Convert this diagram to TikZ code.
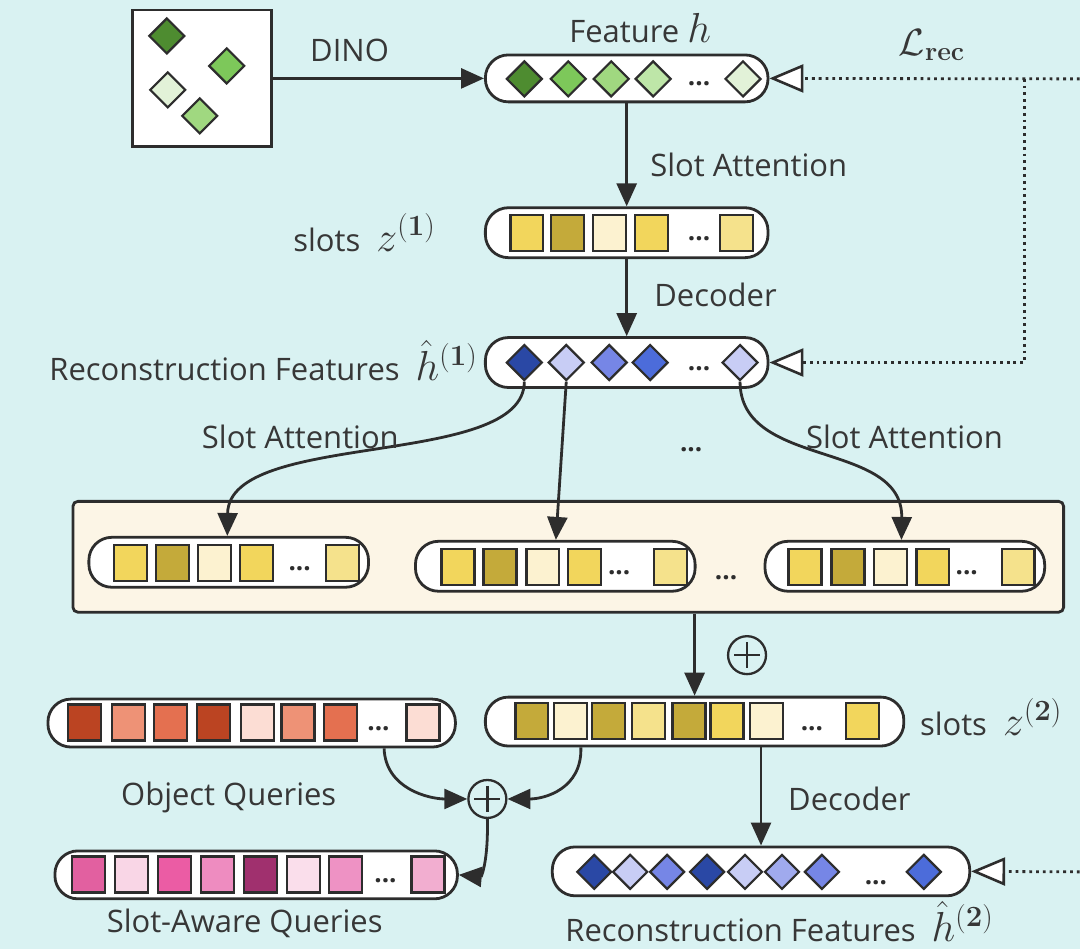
\RequirePackage{fix-cm}
\documentclass[tikz,border=0pt]{standalone}
\usepackage{amsmath}
\usepackage[no-math]{fontspec}
\setmainfont{Open Sans}
\usetikzlibrary{arrows.meta,shapes.geometric,calc}

\definecolor{bg}{RGB}{217,242,242}
\definecolor{ink}{RGB}{45,45,45}
\definecolor{txt}{RGB}{55,55,55}
\definecolor{cream}{RGB}{252,245,230}
% greens
\definecolor{gA}{RGB}{78,140,48}
\definecolor{gB}{RGB}{125,200,90}
\definecolor{gC}{RGB}{160,216,128}
\definecolor{gD}{RGB}{190,230,168}
\definecolor{gE}{RGB}{226,242,216}
% yellows
\definecolor{yY}{RGB}{242,214,92}
\definecolor{yO}{RGB}{196,170,58}
\definecolor{yC}{RGB}{252,242,208}
\definecolor{yL}{RGB}{245,226,140}
% blues
\definecolor{bD}{RGB}{42,72,165}
\definecolor{bL}{RGB}{200,205,245}
\definecolor{bM}{RGB}{118,134,230}
\definecolor{bB}{RGB}{76,108,218}
\definecolor{bS}{RGB}{160,170,238}
% reds
\definecolor{rD}{RGB}{187,68,34}
\definecolor{rS}{RGB}{238,146,118}
\definecolor{rC}{RGB}{228,112,80}
\definecolor{rP}{RGB}{252,221,212}
% pinks
\definecolor{pA}{RGB}{226,96,160}
\definecolor{pP}{RGB}{249,214,230}
\definecolor{pH}{RGB}{235,92,164}
\definecolor{pM}{RGB}{238,140,192}
\definecolor{pD}{RGB}{160,48,110}
\definecolor{pQ}{RGB}{250,222,235}
\definecolor{pN}{RGB}{238,146,196}
\definecolor{pL}{RGB}{242,174,208}

\newcommand{\bigmath}[1]{{\fontsize{42}{44}\selectfont$#1$}}
\newcommand{\lossmath}[1]{{\fontsize{38}{40}\selectfont$#1$}}

\tikzset{
  capsule/.style={draw=ink, line width=2.8, fill=white, rounded corners=23, inner sep=0},
  sq/.style={draw=ink, line width=2.4, minimum width=33, minimum height=36, inner sep=0},
  dia/.style={diamond, draw=ink, line width=2.2, minimum width=36, minimum height=36, inner sep=0},
  smalldia/.style={dia, minimum width=35, minimum height=35},
  dotsym/.style={font=\fontsize{26}{26}\selectfont\bfseries, text=ink, inner sep=0},
  lbl/.style={text=txt, font=\fontsize{31}{36}\selectfont, inner sep=0},
  arr/.style={draw=ink, line width=2.8, -{Triangle[length=23,width=20]}},
  loss/.style={draw=ink, line width=2.8, dash pattern=on 2.8 off 4,
    -{Triangle[open, fill=white, length=34, width=28, line width=2.6]}},
  plus/.style={circle, draw=ink, line width=2.3, minimum size=38, inner sep=0,
    path picture={
      \draw[ink, line width=2.3]
        ($(path picture bounding box.center)+(-13,0)$) -- ($(path picture bounding box.center)+(13,0)$)
        ($(path picture bounding box.center)+(0,-13)$) -- ($(path picture bounding box.center)+(0,13)$);
    }},
}

\begin{document}
\begin{tikzpicture}[x=1pt, y=-1pt]
  % canvas
  \path[fill=bg] (0,0) rectangle (1081,950);

  % input image with DINO patches
  \node[draw=ink, line width=2.8, fill=white, minimum width=139, minimum height=137, inner sep=0] (img) at (202.5,78.5) {};
  \node[dia, fill=gA] (i1) at (167,36) {};
  \node[dia, fill=gB] (i2) at (227,66) {};
  \node[dia, fill=gE] (i3) at (168,90) {};
  \node[dia, fill=gC] (i4) at (200,116) {};

  % feature h
  \node[capsule, minimum width=283, minimum height=47] (feat) at (627.5,78.5) {};
  \foreach \x/\c [count=\i] in {525/gA,569/gB,612/gC,654/gD,744/gE}
    \node[dia, fill=\c] (f\i) at (\x,79) {};
  \node[dotsym] (fdots) at (700,84) {...};

  % slots z(1)
  \node[capsule, minimum width=283, minimum height=50] (z1) at (627.5,233) {};
  \foreach \x/\c [count=\i] in {527.5/yY,568.5/yO,610.5/yC,652.5/yY,737.5/yL}
    \node[sq, fill=\c] (za\i) at (\x,233.5) {};
  \node[dotsym] (zadots) at (700,239) {...};

  % reconstruction h(1)
  \node[capsule, minimum width=283, minimum height=50] (h1) at (627.5,363) {};
  \foreach \x/\c [count=\i] in {525/bD,567/bL,610/bM,651/bB,741/bL}
    \node[dia, fill=\c] (ha\i) at (\x,363) {};
  \node[dotsym] (hadots) at (700,369) {...};

  % group of slot sets
  \node[draw=ink, line width=2.8, fill=cream, rounded corners=5, minimum width=992, minimum height=111, inner sep=0] (grp) at (569,557.5) {};
  \node[capsule, minimum width=280, minimum height=50] (r1) at (229,563) {};
  \foreach \x/\c [count=\i] in {130.5/yY,172.5/yO,215/yC,257/yY,343/yL}
    \node[sq, fill=\c] (ra\i) at (\x,563.5) {};
  \node[dotsym] (radots) at (300,569) {...};
  \node[capsule, minimum width=280, minimum height=50] (r2) at (556,567) {};
  \foreach \x/\c [count=\i] in {458.5/yY,500.5/yO,543.5/yC,585/yY,671.5/yL}
    \node[sq, fill=\c] (rb\i) at (\x,567.5) {};
  \node[dotsym] (rbdots) at (620,573) {...};
  \node[capsule, minimum width=280, minimum height=50] (r3) at (906,567) {};
  \foreach \x/\c [count=\i] in {806/yY,849/yO,891.5/yC,934/yY,1019.5/yL}
    \node[sq, fill=\c] (rc\i) at (\x,567.5) {};
  \node[dotsym] (rcdots) at (968,573) {...};
  \node[dotsym] (gdots) at (727,578) {...};

  % slots z(2)
  \node[capsule, minimum width=419, minimum height=49] (z2) at (695.5,722.5) {};
  \foreach \x/\c [count=\i] in {532.5/yO,571/yC,609.5/yO,649.5/yL,690/yO,728/yY,767.5/yC,863.5/yY}
    \node[sq, fill=\c] (zb\i) at (\x,722) {};
  \node[dotsym] (zbdots) at (813,730) {...};

  % object queries
  \node[capsule, minimum width=408, minimum height=48] (obj) at (252,724) {};
  \foreach \x/\c [count=\i] in {84.5/rD,128.5/rS,170.5/rC,214/rD,258/rP,298.5/rS,341/rC,423.5/rP}
    \node[sq, fill=\c] (ob\i) at (\x,723.5) {};
  \node[dotsym] (obdots) at (379,730) {...};

  % slot-aware queries
  \node[capsule, minimum width=403, minimum height=48] (saq) at (256.5,876) {};
  \foreach \x/\c [count=\i] in {88.5/pA,131.5/pP,174.5/pH,217.5/pM,261/pD,304/pQ,346/pN,428.5/pL}
    \node[sq, fill=\c] (sa\i) at (\x,875.5) {};
  \node[dotsym] (sadots) at (386,882) {...};

  % reconstruction h(2)
  \node[capsule, minimum width=418, minimum height=49] (h2) at (762,872.5) {};
  \foreach \x/\c [count=\i] in {595/bD,631/bL,668/bM,708/bD,746/bL,783/bS,823/bM,925/bB}
    \node[smalldia, fill=\c] (hb\i) at (\x,873) {};
  \node[dotsym] (hbdots) at (877,884) {...};

  % adders
  \node[plus] (addtop) at (748,656) {};
  \node[plus] (addq) at (488,800) {};

  % main flow
  \draw[arr] (img.east) -- (feat.west);
  \draw[arr] (feat.south) -- (z1.north);
  \draw[arr] (z1.south) -- (h1.north);
  \draw[arr] (ha1.south) .. controls (525,470) and (229,430) .. ($(r1.north west)+(140,0)$);
  \draw[arr] (ha2.south) -- ($(r2.north west)+(142,0)$);
  \draw[arr] (ha5.south) .. controls (741,470) and (904,440) .. ($(r3.north west)+(138,0)$);
  \draw[arr] (grp.south -| z2.north) -- (z2.north);
  \draw[arr] (z2.south -| h2.north) -- (h2.north);
  \draw[arr] ($(obj.south west)+(338,0)$) .. controls (386,790) and (430,800) .. (addq.west);
  \draw[arr] ($(z2.south west)+(97,0)$) .. controls (583,790) and (545,800) .. (addq.east);
  \draw[arr] (addq.south) .. controls (489,862) and (482,878) .. (saq.east);

  % reconstruction loss
  \coordinate (le1) at (1081,79);
  \coordinate (lj1) at (1026,79);
  \coordinate (lj2) at (1026,363);
  \coordinate (le2) at (1081,873);
  \draw[loss] (le1) -- (feat.east);
  \draw[loss] (lj1) -- (lj2) -- (h1.east);
  \draw[loss] (le2) -- (h2.east);

  % labels
  \node[lbl] (tdino) at (350,50) {DINO};
  \node[lbl] (tfeat) at (641,28) {Feature\ \bigmath{h}};
  \node[lbl] (tloss) at (933,45) {\lossmath{\mathcal{L}_{\mathbf{rec}}}};
  \node[lbl, anchor=west] (tsa1) at (651,165) {Slot Attention};
  \node[lbl, anchor=east] (tz1) at (436,233) {slots\ \ \bigmath{z^{\mathbf{(1)}}}};
  \node[lbl, anchor=east] (th1) at (478,361) {Reconstruction Features\ \ \bigmath{\hat{h}^{\mathbf{(1)}}}};
  \node[lbl, anchor=west] (tdec1) at (655,295) {Decoder};
  \node[lbl, anchor=west] (tsa2) at (202,437) {Slot Attention};
  \node[lbl, anchor=west] (tsa3) at (807,437) {Slot Attention};
  \node[dotsym] (tmid) at (692,450) {...};
  \node[lbl, anchor=west] (tz2) at (921,718) {slots\ \ \bigmath{z^{\mathbf{(2)}}}};
  \node[lbl, anchor=west] (tdec2) at (789,800) {Decoder};
  \node[lbl] (tobj) at (229,798) {Object Queries};
  \node[lbl] (tsaq) at (245,925) {Slot-Aware Queries};
  \node[lbl, anchor=west] (th2) at (566,923) {Reconstruction Features\ \ \bigmath{\hat{h}^{\mathbf{(2)}}}};
\end{tikzpicture}
\end{document}
